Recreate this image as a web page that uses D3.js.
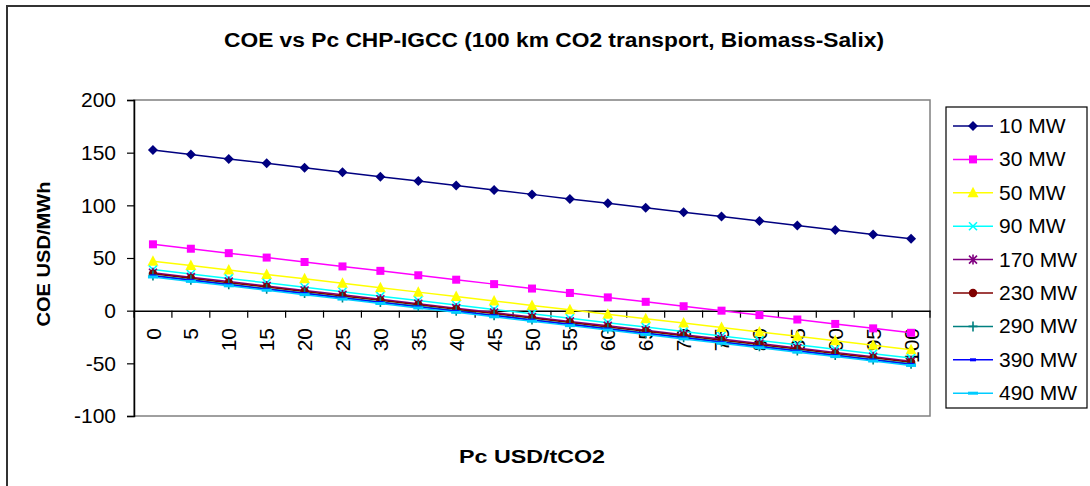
<!DOCTYPE html>
<html>
<head>
<meta charset="utf-8">
<script src="https://cdn.jsdelivr.net/npm/d3@7/dist/d3.min.js"></script>
<style>
  body { margin: 0; background: #fff; }
  svg { font-family: "Liberation Sans", Arial, sans-serif; }
</style>
</head>
<body>
<div id="chart"></div>
<script>
var svgWidth = 1090;
var svgHeight = 486;

// x categories: carbon price, USD/tCO2
var prices = [0, 5, 10, 15, 20, 25, 30, 35, 40, 45, 50, 55, 60, 65, 70, 75, 80, 85, 90, 95, 100];
var yTicks = [-100, -50, 0, 50, 100, 150, 200];

// COE USD/MWh
var mw10  = [152.5, 148.3, 144.1, 139.9, 135.6, 131.4, 127.2, 123, 118.8, 114.6, 110.4, 106.1, 101.9, 97.7, 93.5, 89.3, 85.1, 80.8, 76.6, 72.4, 68.2];
var mw30  = [63, 58.8, 54.6, 50.4, 46.2, 42, 37.8, 33.6, 29.4, 25.2, 21, 16.8, 12.6, 8.4, 4.2, 0, -4.2, -8.4, -12.6, -16.8, -21];
var mw50  = [47, 42.8, 38.6, 34.4, 30.2, 26, 21.8, 17.6, 13.4, 9.2, 5, 0.8, -3.4, -7.6, -11.8, -16, -20.2, -24.4, -28.6, -32.8, -37];
var mw90  = [39, 34.8, 30.6, 26.4, 22.2, 18, 13.8, 9.6, 5.4, 1.2, -3, -7.2, -11.4, -15.6, -19.8, -24, -28.2, -32.4, -36.6, -40.8, -45];
var mw170 = [36, 31.8, 27.6, 23.4, 19.2, 15, 10.8, 6.6, 2.4, -1.8, -6, -10.2, -14.4, -18.6, -22.8, -27, -31.2, -35.4, -39.6, -43.8, -48];
var mw230 = [35, 30.8, 26.6, 22.4, 18.2, 14, 9.8, 5.6, 1.4, -2.8, -7, -11.2, -15.4, -19.6, -23.8, -28, -32.2, -36.4, -40.6, -44.8, -49];
var mw290 = [33.5, 29.3, 25.1, 20.9, 16.7, 12.5, 8.3, 4.1, -0.1, -4.3, -8.5, -12.7, -16.9, -21.1, -25.3, -29.5, -33.7, -37.9, -42.1, -46.3, -50.5];
var mw390 = [33, 28.8, 24.6, 20.4, 16.2, 12, 7.8, 3.6, -0.6, -4.8, -9, -13.2, -17.4, -21.6, -25.8, -30, -34.2, -38.4, -42.6, -46.8, -51];
var mw490 = [32, 27.8, 23.6, 19.4, 15.2, 11, 6.8, 2.6, -1.6, -5.8, -10, -14.2, -18.4, -22.6, -26.8, -31, -35.2, -39.4, -43.6, -47.8, -52];

var seriesNames = ["10 MW", "30 MW", "50 MW", "90 MW", "170 MW", "230 MW", "290 MW", "390 MW", "490 MW"];
var seriesValues = [mw10, mw30, mw50, mw90, mw170, mw230, mw290, mw390, mw490];
var colors = ["#000080", "#ff00ff", "#ffff00", "#00ffff", "#800080", "#800000", "#008080", "#0000ff", "#00ccff"];
var markers = ["diamond", "square", "triangle", "x", "star", "circle", "plus", "dash", "dash2"];

var plot = { left: 134, top: 100, right: 930, bottom: 416 };

var svg = d3.select("#chart")
  .append("svg")
  .attr("width", svgWidth)
  .attr("height", svgHeight);

// outer chart frame
svg.append("rect")
  .attr("x", 7).attr("y", 6)
  .attr("width", 1200).attr("height", 600)
  .attr("fill", "none")
  .attr("stroke", "#333")
  .attr("stroke-width", 2);

var x = d3.scaleBand()
  .domain(prices)
  .range([plot.left, plot.right]);

var y = d3.scaleLinear()
  .domain([-100, 200])
  .range([plot.bottom, plot.top]);

// plot area border
svg.append("rect")
  .attr("x", plot.left).attr("y", plot.top)
  .attr("width", plot.right - plot.left)
  .attr("height", plot.bottom - plot.top)
  .attr("fill", "none")
  .attr("stroke", "#808080")
  .attr("stroke-width", 1.5);

// y axis
var leftAxis = d3.axisLeft(y)
  .tickValues(yTicks)
  .tickSize(7)
  .tickPadding(11)
  .tickFormat(d => String(d));
var yg = svg.append("g")
  .attr("transform", `translate(${plot.left}, 0)`)
  .call(leftAxis);
yg.select(".domain").attr("stroke", "#000").attr("stroke-width", 1.5);
yg.selectAll(".tick line").attr("stroke", "#000").attr("stroke-width", 1.2);
yg.selectAll("text")
  .attr("font-size", "21px")
  .attr("fill", "#000");

// x axis along zero, ticks at category boundaries
var bottomAxis = d3.axisBottom(x).tickSize(0).tickFormat("");
var xg = svg.append("g")
  .attr("transform", `translate(0, ${y(0)})`)
  .call(bottomAxis);
xg.select(".domain").attr("stroke", "#000").attr("stroke-width", 1.5);

var bounds = prices.map(function(p) { return x(p); }).concat([plot.right]);
xg.selectAll(".bound")
  .data(bounds)
  .enter()
  .append("line")
  .attr("x1", d => d).attr("x2", d => d)
  .attr("y1", 0).attr("y2", 7)
  .attr("stroke", "#000")
  .attr("stroke-width", 1.2);

svg.append("g").selectAll("text")
  .data(prices)
  .enter()
  .append("text")
  .attr("transform", d => `translate(${x(d) + x.bandwidth() / 2}, 328) rotate(-90)`)
  .attr("text-anchor", "end")
  .attr("dy", "0.36em")
  .attr("font-size", "21px")
  .text(d => d);

// marker drawing
function drawMarker(g, type, color) {
  if (type === "diamond") {
    g.append("path").attr("d", "M0,-5L5,0L0,5L-5,0Z").attr("fill", color);
  } else if (type === "square") {
    g.append("rect").attr("x", -4).attr("y", -4).attr("width", 8).attr("height", 8).attr("fill", color);
  } else if (type === "triangle") {
    g.append("path").attr("d", "M0,-6L5.5,4.5L-5.5,4.5Z").attr("fill", color);
  } else if (type === "x") {
    g.append("path").attr("d", "M-4,-4L4,4M-4,4L4,-4").attr("stroke", color).attr("stroke-width", 1.6);
  } else if (type === "star") {
    g.append("path").attr("d", "M-4,-4L4,4M-4,4L4,-4M0,-5L0,5").attr("stroke", color).attr("stroke-width", 1.6);
  } else if (type === "circle") {
    g.append("circle").attr("r", 4.2).attr("fill", color);
  } else if (type === "plus") {
    g.append("path").attr("d", "M-4.5,0L4.5,0M0,-5L0,5").attr("stroke", color).attr("stroke-width", 1.6);
  } else if (type === "dash") {
    g.append("rect").attr("x", -3).attr("y", -1.5).attr("width", 6).attr("height", 3).attr("fill", color);
  } else if (type === "dash2") {
    g.append("rect").attr("x", -5).attr("y", -1.5).attr("width", 10).attr("height", 3).attr("fill", color);
  }
}

var line = d3.line()
  .x((d, i) => x(prices[i]) + x.bandwidth() / 2)
  .y(d => y(d));

seriesValues.forEach(function(vals, si) {
  var sg = svg.append("g");
  sg.append("path")
    .datum(vals)
    .attr("d", line)
    .attr("fill", "none")
    .attr("stroke", colors[si])
    .attr("stroke-width", 1.5);
  vals.forEach(function(v, i) {
    var mg = sg.append("g")
      .attr("transform", `translate(${x(prices[i]) + x.bandwidth() / 2}, ${y(v)})`);
    drawMarker(mg, markers[si], colors[si]);
  });
});

// titles (text in the original is a bit wide, so stretch to measured lengths)
svg.append("text")
  .attr("x", 554).attr("y", 47)
  .attr("text-anchor", "middle")
  .attr("font-size", "20px")
  .attr("font-weight", "bold")
  .attr("textLength", 660)
  .attr("lengthAdjust", "spacingAndGlyphs")
  .text("COE vs Pc CHP-IGCC (100 km CO2 transport, Biomass-Salix)");

svg.append("text")
  .attr("x", 532).attr("y", 463)
  .attr("text-anchor", "middle")
  .attr("font-size", "19px")
  .attr("font-weight", "bold")
  .attr("textLength", 146)
  .attr("lengthAdjust", "spacingAndGlyphs")
  .text("Pc USD/tCO2");

svg.append("text")
  .attr("transform", `translate(50, 254) rotate(-90)`)
  .attr("text-anchor", "middle")
  .attr("font-size", "19px")
  .attr("font-weight", "bold")
  .attr("textLength", 145)
  .attr("lengthAdjust", "spacingAndGlyphs")
  .text("COE USD/MWh");

// legend
var legend = svg.append("g");
legend.append("rect")
  .attr("x", 946).attr("y", 107)
  .attr("width", 141).attr("height", 301)
  .attr("fill", "#fff")
  .attr("stroke", "#000")
  .attr("stroke-width", 1.2);

seriesNames.forEach(function(name, i) {
  var cy = 126 + i * 33.4;
  var lg = legend.append("g").attr("transform", `translate(0, ${cy})`);
  lg.append("line")
    .attr("x1", 953).attr("x2", 993)
    .attr("y1", 0).attr("y2", 0)
    .attr("stroke", colors[i])
    .attr("stroke-width", 1.5);
  var mg = lg.append("g").attr("transform", "translate(973, 0)");
  drawMarker(mg, markers[i], colors[i]);
  lg.append("text")
    .attr("x", 999).attr("y", 7)
    .attr("font-size", "21px")
    .text(name);
});
</script>
</body>
</html>
